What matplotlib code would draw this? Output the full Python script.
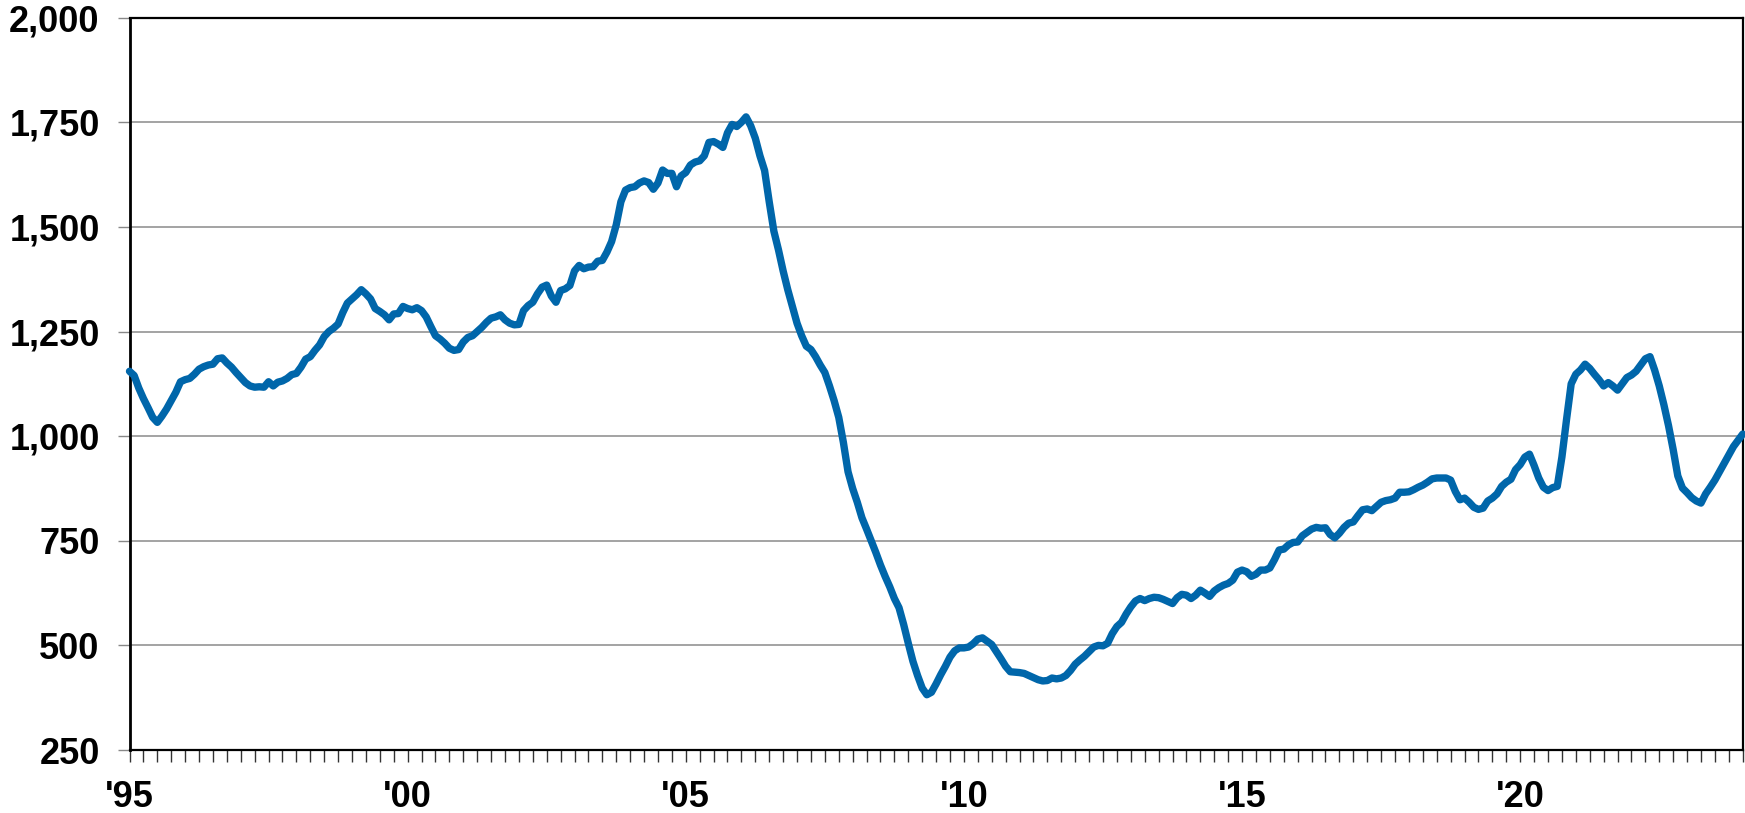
import matplotlib
matplotlib.use("Agg")
import matplotlib.pyplot as plt
from matplotlib.ticker import FixedLocator, FuncFormatter
import numpy as np

# Monthly values, Jan 1995 .. Jan 2024 (thousands)
y1995 = [1155, 1145, 1115, 1090, 1068, 1045, 1033, 1048, 1065, 1085, 1105, 1130]
y1996 = [1135, 1138, 1148, 1160, 1166, 1170, 1172, 1185, 1187, 1175, 1165, 1152]
y1997 = [1140, 1128, 1120, 1117, 1118, 1117, 1130, 1120, 1129, 1132, 1138, 1147]
y1998 = [1150, 1165, 1184, 1190, 1205, 1218, 1238, 1250, 1258, 1268, 1295, 1318]
y1999 = [1328, 1338, 1350, 1340, 1328, 1305, 1298, 1290, 1278, 1292, 1293, 1310]
y2000 = [1305, 1302, 1307, 1300, 1285, 1262, 1240, 1232, 1222, 1210, 1205, 1207]
y2001 = [1225, 1236, 1240, 1250, 1260, 1272, 1282, 1285, 1290, 1278, 1270, 1266]
y2002 = [1267, 1300, 1312, 1320, 1340, 1356, 1361, 1335, 1320, 1348, 1352, 1360]
y2003 = [1395, 1408, 1400, 1404, 1405, 1418, 1420, 1440, 1465, 1505, 1560, 1588]
y2004 = [1594, 1596, 1605, 1610, 1606, 1590, 1605, 1636, 1628, 1628, 1596, 1622]
y2005 = [1630, 1648, 1655, 1658, 1670, 1702, 1704, 1698, 1690, 1725, 1745, 1740]
y2006 = [1750, 1763, 1742, 1712, 1670, 1635, 1560, 1490, 1445, 1395, 1350, 1310]
y2007 = [1270, 1240, 1215, 1207, 1190, 1170, 1152, 1120, 1085, 1045, 985, 915]
y2008 = [875, 842, 805, 778, 750, 722, 692, 665, 640, 612, 590, 550]
y2009 = [505, 462, 428, 398, 382, 388, 408, 430, 450, 472, 487, 494]
y2010 = [494, 496, 504, 515, 518, 510, 502, 485, 468, 450, 437, 436]
y2011 = [435, 433, 428, 423, 418, 415, 416, 422, 420, 422, 428, 440]
y2012 = [455, 465, 474, 485, 496, 500, 499, 505, 528, 545, 555, 575]
y2013 = [592, 606, 612, 607, 612, 615, 614, 610, 605, 600, 614, 622]
y2014 = [620, 612, 620, 632, 625, 617, 630, 638, 644, 648, 656, 675]
y2015 = [680, 676, 665, 670, 680, 680, 685, 705, 728, 730, 740, 746]
y2016 = [747, 762, 770, 778, 782, 780, 781, 765, 757, 768, 782, 792]
y2017 = [795, 810, 824, 826, 822, 832, 842, 846, 848, 852, 866, 866]
y2018 = [867, 872, 878, 883, 890, 898, 900, 900, 900, 895, 868, 848]
y2019 = [852, 842, 830, 825, 828, 845, 852, 862, 880, 890, 897, 920]
y2020 = [932, 950, 957, 930, 900, 878, 870, 877, 880, 950, 1040, 1125]
y2021 = [1148, 1158, 1172, 1162, 1148, 1135, 1120, 1128, 1120, 1110, 1125, 1140]
y2022 = [1146, 1155, 1170, 1185, 1190, 1158, 1120, 1075, 1025, 968, 905, 876]
y2023 = [865, 853, 845, 840, 862, 878, 895, 915, 935, 955, 975, 990]
y2024 = [1005]

values = (y1995 + y1996 + y1997 + y1998 + y1999 + y2000 + y2001 + y2002 + y2003
          + y2004 + y2005 + y2006 + y2007 + y2008 + y2009 + y2010 + y2011 + y2012
          + y2013 + y2014 + y2015 + y2016 + y2017 + y2018 + y2019 + y2020 + y2021
          + y2022 + y2023 + y2024)
start_year = 1995
dates = start_year + np.arange(len(values)) / 12.0

x_tick_years = [1995, 2000, 2005, 2010, 2015, 2020]
x_tick_labels = ["'95", "'00", "'05", "'10", "'15", "'20"]
y_ticks = [250, 500, 750, 1000, 1250, 1500, 1750, 2000]

W, H = 1745, 813
fig = plt.figure(figsize=(W / 100, H / 100), dpi=100)
ax = fig.add_axes([129.5 / W, 1 - 750 / H, (1742.7 - 129.5) / W, (750 - 17.7) / H])

ax.plot(dates, values, color="#0066aa", lw=5.3, solid_joinstyle="round",
        solid_capstyle="round", zorder=3, clip_on=False)

ax.set_xlim(1995, 2024)
ax.set_ylim(250, 2000)

ax.yaxis.set_major_locator(FixedLocator(y_ticks))
ax.yaxis.set_major_formatter(FuncFormatter(lambda v, p: f"{int(v):,}"))
ax.grid(axis="y", color="#9c9c9c", lw=1.3, zorder=1)
ax.set_axisbelow(True)

ax.xaxis.set_major_locator(FixedLocator(x_tick_years))
ax.set_xticklabels(x_tick_labels)
ax.xaxis.set_minor_locator(FixedLocator(np.arange(1995, 2024.01, 0.25)))

for lab in ax.get_yticklabels() + ax.get_xticklabels():
    lab.set_fontfamily("Liberation Sans")
    lab.set_fontweight("bold")
    lab.set_fontsize(26)
    lab.set_color("black")

ax.tick_params(axis="y", which="major", direction="out", length=8.5, width=1.0,
               color="#888888", pad=13)
ax.tick_params(axis="x", which="both", direction="out", length=8.5, width=1.0,
               color="#333333")
ax.tick_params(axis="x", which="major", pad=13)

for side in ["top", "right", "bottom"]:
    ax.spines[side].set_linewidth(1.6)
    ax.spines[side].set_color("black")
ax.spines["left"].set_linewidth(2.0)
ax.spines["left"].set_color("black")

fig.savefig("out.png", dpi=100)
